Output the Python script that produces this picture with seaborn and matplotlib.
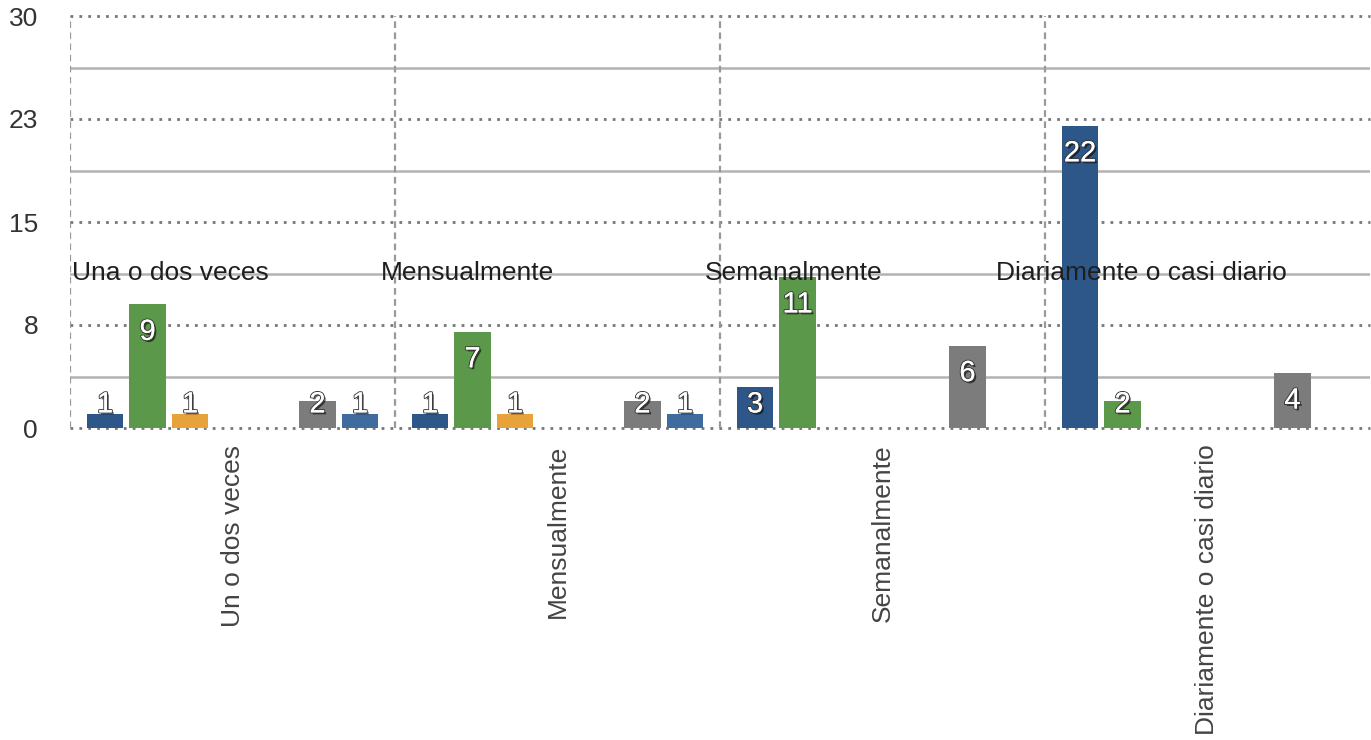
import numpy as np
import pandas as pd
import matplotlib
matplotlib.use("Agg")
import matplotlib.pyplot as plt
import matplotlib.patheffects as pe
import seaborn as sns

# Frecuencia de uso por categoría (siete series por grupo; NaN = sin barra)
categorias = ["Un o dos veces", "Mensualmente", "Semanalmente", "Diariamente o casi diario"]
etiquetas_internas = ["Una o dos veces", "Mensualmente", "Semanalmente", "Diariamente o casi diario"]
series = ["S1", "S2", "S3", "S4", "S5", "S6", "S7"]
s1 = [1, 1, 3, 22]
s2 = [9, 7, 11, 2]
s3 = [1, 1, np.nan, np.nan]
s4 = [np.nan, np.nan, np.nan, np.nan]
s5 = [np.nan, np.nan, np.nan, np.nan]
s6 = [2, 2, 6, 4]
s7 = [1, 1, np.nan, np.nan]
colores = ["#2c5788", "#5b9849", "#e8a23a", "#8a8a8a", "#a0a0a0", "#7b7c7b", "#3f6b9f"]

yticks = [0, 7.5, 15, 22.5, 30]
yticklabels = ["0", "8", "15", "23", "30"]
yminor = [3.75, 11.25, 18.75, 26.25]

valores = [s1, s2, s3, s4, s5, s6, s7]
df = pd.DataFrame(
    [(c, s, v[i]) for s, v in zip(series, valores) for i, c in enumerate(categorias)],
    columns=["frecuencia", "serie", "n"],
)

sns.set_theme(style="white")
plt.rcParams["font.family"] = ["Liberation Sans", "DejaVu Sans"]

fig = plt.figure(figsize=(13.71, 7.40), dpi=100)
ax = fig.add_axes([70 / 1371, 312 / 740, 1300 / 1371, 412 / 740])

sns.barplot(
    data=df, x="frecuencia", y="n", hue="serie",
    order=categorias, hue_order=series, palette=colores,
    width=0.915, gap=0.15, saturation=1, linewidth=0,
    legend=False, ax=ax, zorder=3,
)

ax.set_xlim(-0.5, 3.5)
ax.set_ylim(0, 30)
for s in ax.spines.values():
    s.set_visible(False)

# Cuadrícula: punteada en las marcas principales, continua en las intermedias
ax.set_yticks(yticks)
ax.set_yticklabels(yticklabels)
ax.set_yticks(yminor, minor=True)
ax.set_axisbelow(True)
ax.yaxis.grid(True, which="major", color="#777777", lw=2, ls=(0, (1, 2.2)))
ax.yaxis.grid(True, which="minor", color="#b3b3b3", lw=1.8, ls="-")
ax.xaxis.grid(False)
for gl in ax.get_ygridlines():
    gl.set_clip_on(False)
for xv in [-0.5, 0.5, 1.5, 2.5]:
    ax.axvline(xv, color="#999999", lw=1.6, ls=(0, (3, 2)), zorder=1)

ax.tick_params(axis="both", which="both", length=0)
ax.tick_params(axis="y", pad=23, labelsize=19, labelcolor="#333333")
ax.tick_params(axis="x", pad=12, labelsize=19, labelcolor="#444444")
plt.setp(ax.get_xticklabels(), rotation=90, ha="center", va="top")
ax.set_xlabel("")
ax.set_ylabel("")

# Etiquetas de categoría dentro del área del gráfico
centros_internos = [-0.192, 0.724, 1.728, 2.798]
for xc, txt in zip(centros_internos, etiquetas_internas):
    ax.text(xc, 10.78, txt, ha="center", va="baseline", fontsize=19,
            color="#1e1e1e", zorder=5)

# Valores sobre cada barra
efectos = [
    pe.SimplePatchShadow(offset=(1.4, -1.4), shadow_rgbFace="#000000", alpha=0.6),
    pe.withStroke(linewidth=1.5, foreground="#3a3a3a"),
    pe.Normal(),
]
for p in ax.patches:
    h = p.get_height()
    if np.isfinite(h) and h > 0:
        xc = p.get_x() + p.get_width() / 2
        ax.text(xc, max(h - 2.0, 1.72), f"{h:g}", ha="center", va="center",
                fontsize=21, color="white", zorder=6, path_effects=efectos)

fig.savefig("out.png", dpi=100)
